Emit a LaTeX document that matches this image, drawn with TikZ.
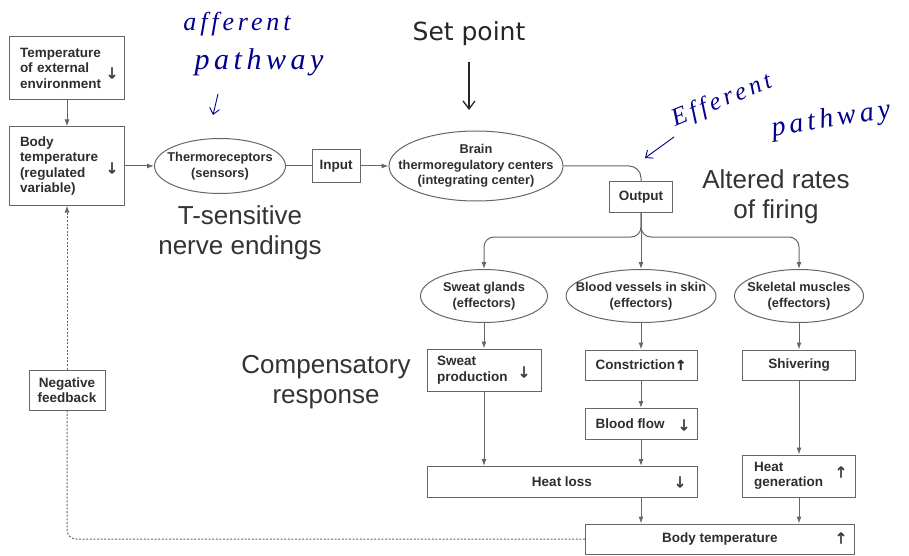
\documentclass[tikz,border=0pt]{standalone}
\usepackage{fontspec}
\setsansfont{Liberation Sans}
\newfontfamily\arrowfont{DejaVu Sans}[FakeBold=2]
\newfontfamily\setptfont{DejaVu Sans}
\newfontfamily\handfont{Liberation Serif}[LetterSpace=15]
\usetikzlibrary{shapes.geometric,arrows.meta,calc}
\begin{document}
\begin{tikzpicture}[x=1pt,y=-1pt,
  lbl/.style={font=\sffamily\bfseries\fontsize{13.5}{15.5}\selectfont, text=black!82},
  box/.style={lbl, draw=black!60, line width=1pt, fill=white, rectangle, inner sep=0pt, align=center},
  oval/.style={draw=black!60, line width=1pt, fill=white, ellipse, inner sep=0pt},
  ovaltext/.style={font=\sffamily\bfseries\fontsize{12.8}{15.5}\selectfont, text=black!82, align=center, inner sep=0pt},
  ln/.style={draw=black!60, line width=1pt},
  arr/.style={ln, -{Latex[length=7pt,width=5pt]}},
  dashpat/.style={dash pattern=on 2pt off 1.6pt},
  updn/.style={font=\arrowfont\fontsize{15}{15}\selectfont, text=black!75, inner sep=0pt},
  big/.style={font=\sffamily\fontsize{26}{30}\selectfont, text=black!80, align=center},
  hand/.style={text=blue!55!black, inner sep=0pt},
  handline/.style={draw=blue!55!black, line width=0.9pt}
]
\useasboundingbox[fill=white] (0,0) rectangle (909,556);

% left column
\node[box, minimum width=115, minimum height=63, text width=94, align=left] (ext) at (67,68) {Temperature\\of external\\environment};
\node[updn] (extdn) at (112,73) {↓};
\node[box, minimum width=115, minimum height=78, text width=94, align=left] (body) at (67,166) {Body\\temperature\\(regulated\\variable)};
\node[updn] (bodydn) at (112,168) {↓};
\node[box, minimum width=76, minimum height=40] (negfb) at (67,390) {Negative\\feedback};

% top row
\node[oval, minimum width=131, minimum height=55] (thermo) at (220,166) {};
\node[ovaltext] (thermot) at (thermo) {Thermoreceptors\\(sensors)};
\node[box, minimum width=48, minimum height=33] (input) at (336,166) {Input};
\node[oval, minimum width=174, minimum height=70] (brain) at (476,166) {};
\node[ovaltext] (braint) at (brain) {Brain\\thermoregulatory centers\\(integrating center)};
\node[box, minimum width=63, minimum height=31] (output) at (641,197) {Output};

% effectors
\node[oval, minimum width=127, minimum height=53] (sweat) at (484,296) {};
\node[ovaltext] (sweatt) at (sweat) {Sweat glands\\(effectors)};
\node[oval, minimum width=150, minimum height=53] (vessels) at (641,296) {};
\node[ovaltext] (vesselst) at (vessels) {Blood vessels in skin\\(effectors)};
\node[oval, minimum width=129, minimum height=53] (skeletal) at (799,296) {};
\node[ovaltext] (skeletalt) at (skeletal) {Skeletal muscles\\(effectors)};

% responses
\node[box, minimum width=114, minimum height=42, text width=94, align=left] (sweatprod) at (484,370) {Sweat\\production};
\node[updn] (sweatdn) at (524,372) {↓};
\node[box, minimum width=112, minimum height=30] (constr) at (641,365) {Constriction{\arrowfont↑}};
\node[box, minimum width=113, minimum height=30] (shiver) at (799,365) {Shivering};
\node[box, minimum width=112, minimum height=31] (bloodflow) at (641,424) {Blood flow\hspace{22pt}};
\node[updn] (flowdn) at (684,425) {↓};
\node[box, minimum width=270, minimum height=31] (heatloss) at (562,482) {Heat loss};
\node[updn] (lossdn) at (680,482) {↓};
\node[box, minimum width=113, minimum height=42, text width=90, align=left] (heatgen) at (799,476) {Heat\\generation};
\node[updn] (genup) at (841,472) {↑};
\node[box, minimum width=269, minimum height=30] (bodytemp) at (720,539) {Body temperature};
\node[updn] (btup) at (841,538) {↑};

% connectors
\draw[arr] (ext) -- (body);
\draw[arr] (body) -- (thermo);
\draw[ln] (thermo) -- (input);
\draw[arr] (input) -- (brain);
\draw[ln, rounded corners=12] (brain.east) -| (output.north);
\draw[arr, rounded corners=10] (output.south) -- ++(0,24) -| (sweat.north);
\draw[arr, rounded corners=10] (output.south) -- ++(0,24) -| (skeletal.north);
\draw[arr] (output) -- (vessels);
\draw[arr] (sweat) -- (sweatprod);
\draw[arr] (vessels) -- (constr);
\draw[arr] (skeletal) -- (shiver);
\draw[arr] (constr) -- (bloodflow);
\draw[arr] (sweatprod.south) -- (sweatprod.south |- heatloss.north);
\draw[arr] (bloodflow.south) -- (bloodflow.south |- heatloss.north);
\draw[arr] (shiver) -- (heatgen);
\draw[arr] (bloodflow.south |- heatloss.south) -- (bloodflow.south |- bodytemp.north);
\draw[arr] (heatgen.south) -- (heatgen.south |- bodytemp.north);
\draw[ln, dashpat, rounded corners=9] (bodytemp.west) -| (negfb.south);
\draw[arr, dashpat] (negfb.north) -- (negfb.north |- body.south);

% annotations
\node[font=\setptfont\fontsize{25}{28}\selectfont, text=black!85] (setpt) at (469,34) {Set point};
\coordinate (spend) at (469,110);
\draw[line width=1.3pt, black!85, -{Straight Barb[length=8pt,width=12pt]}] ($(setpt.south)+(0,12)$) -- (spend);
\node[big] (tsens) at (240,233) {T-sensitive\\nerve endings};
\node[big] (altered) at (776,197) {Altered rates\\of firing};
\node[big] (comp) at (326,382) {Compensatory\\response};

% handwritten notes
\node[hand, font=\handfont\itshape\fontsize{26}{26}\selectfont] (aff1) at (237,24) {afferent};
\node[hand, font=\handfont\itshape\fontsize{30}{30}\selectfont] (aff2) at (259,62) {pathway};
\coordinate (affa) at (218,94);
\coordinate (affb) at (213,115);
\draw[handline, -{Straight Barb[length=6pt,width=10pt]}] (affa) -- (affb);
\node[hand, rotate=22, font=\handfont\itshape\fontsize{25}{25}\selectfont] (eff1) at (722,101) {Efferent};
\node[hand, rotate=9, font=\handfont\itshape\fontsize{28}{28}\selectfont] (eff2) at (831,120) {pathway};
\coordinate (effa) at (674,137);
\coordinate (effb) at (645,158);
\draw[handline, -{Straight Barb[length=6pt,width=10pt]}] (effa) -- (effb);
\end{tikzpicture}
\end{document}
